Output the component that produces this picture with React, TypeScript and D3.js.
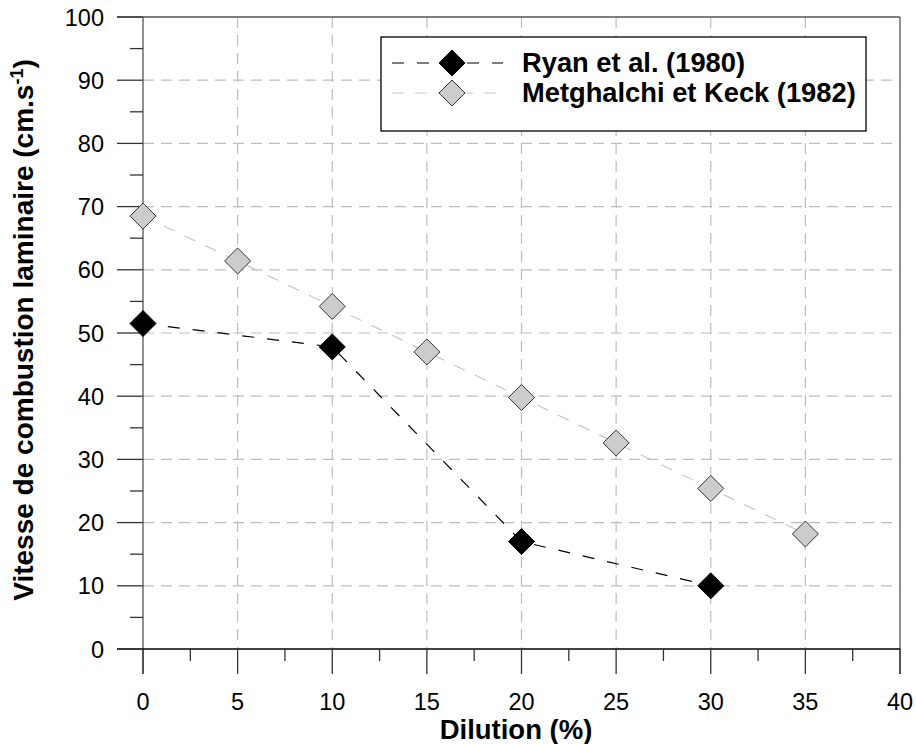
import React from "react";
import * as d3 from "d3";

const ryanX = [0, 10, 20, 30];
const ryanY = [51.5, 47.8, 17.0, 10.0];
const metX = [0, 5, 10, 15, 20, 25, 30, 35];
const metY = [68.5, 61.4, 54.2, 47.0, 39.8, 32.6, 25.4, 18.2];
const xTicks = [0, 5, 10, 15, 20, 25, 30, 35, 40];
const yTicks = [0, 10, 20, 30, 40, 50, 60, 70, 80, 90, 100];
const seriesNames = ["Ryan et al. (1980)", "Metghalchi et Keck (1982)"];

const W = 916, H = 744;
const left = 143, right = 900, top = 17, bottom = 649;
const font = "Liberation Sans, Arial, sans-serif";

export default function App() {
  const x = d3.scaleLinear().domain([0, 40]).range([left, right]);
  const y = d3.scaleLinear().domain([0, 100]).range([bottom, top]);
  const minorX = d3.range(2.5, 40, 5);
  const minorY = d3.range(5, 100, 10);
  const ryan = ryanX.map((v, i) => [v, ryanY[i]] as [number, number]);
  const met = metX.map((v, i) => [v, metY[i]] as [number, number]);
  const line = d3.line<[number, number]>().x(d => x(d[0])).y(d => y(d[1]));
  const diamond = (cx: number, cy: number, r: number) => `M${cx},${cy - r}L${cx + r},${cy}L${cx},${cy + r}L${cx - r},${cy}Z`;
  const R = 13;
  const lgX = 381, lgY = 37, lgW = 485, lgH = 94;
  const gridDash = "11,7";
  return (
    <svg width={W} height={H} style={{ position: "absolute", left: 0, top: 0, background: "#fff" }} fontFamily={font}>
      {/* grid */}
      {xTicks.slice(1, -1).map(t => (
        <line key={"gx" + t} x1={x(t)} x2={x(t)} y1={top} y2={bottom} stroke="#bdbdbd" strokeWidth={1.2} strokeDasharray={gridDash} />
      ))}
      {yTicks.slice(1, -1).map(t => (
        <line key={"gy" + t} x1={left} x2={right} y1={y(t)} y2={y(t)} stroke="#bdbdbd" strokeWidth={1.2} strokeDasharray={gridDash} />
      ))}
      {/* frame */}
      <line x1={left - 26} x2={right} y1={top} y2={top} stroke="#555" strokeWidth={1.3} />
      <line x1={right} x2={right} y1={top} y2={bottom + 25} stroke="#555" strokeWidth={1.3} />
      <line x1={left} x2={left} y1={top} y2={bottom + 25} stroke="#555" strokeWidth={1.3} />
      <line x1={left - 26} x2={right} y1={bottom} y2={bottom} stroke="#000" strokeWidth={1.3} />
      {/* ticks */}
      {xTicks.map(t => (
        <line key={"tx" + t} x1={x(t)} x2={x(t)} y1={bottom} y2={bottom + 25} stroke="#333" strokeWidth={1.3} />
      ))}
      {minorX.map(t => (
        <line key={"mx" + t} x1={x(t)} x2={x(t)} y1={bottom} y2={bottom + 12} stroke="#333" strokeWidth={1.3} />
      ))}
      {yTicks.map(t => (
        <line key={"ty" + t} x1={left - 26} x2={left} y1={y(t)} y2={y(t)} stroke="#333" strokeWidth={1.3} />
      ))}
      {minorY.map(t => (
        <line key={"my" + t} x1={left - 13} x2={left} y1={y(t)} y2={y(t)} stroke="#333" strokeWidth={1.3} />
      ))}
      {/* tick labels */}
      {xTicks.map(t => (
        <text key={"lx" + t} x={x(t)} y={710} fontSize={23.5} textAnchor="middle" fill="#000">{t}</text>
      ))}
      {yTicks.map(t => (
        <text key={"ly" + t} x={104} y={y(t) + 8.5} fontSize={23.5} textAnchor="end" fill="#000">{t}</text>
      ))}
      {/* axis titles */}
      <text x={516} y={739} fontSize={27.5} fontWeight="bold" textAnchor="middle">Dilution (%)</text>
      <text transform={`translate(33,330) rotate(-90)`} fontSize={28} fontWeight="bold" textAnchor="middle">
        Vitesse de combustion laminaire (cm.s<tspan dy={-10} fontSize={18}>-1</tspan><tspan dy={10}>)</tspan>
      </text>
      {/* series */}
      <path d={line(met) || ""} fill="none" stroke="#c8c8c8" strokeWidth={1.2} strokeDasharray="12,11" />
      <path d={line(ryan) || ""} fill="none" stroke="#000" strokeWidth={1.2} strokeDasharray="12,13" />
      {met.map((d, i) => (
        <path key={"m" + i} d={diamond(x(d[0]), y(d[1]), R)} fill="#cccccc" stroke="#333" strokeWidth={1} />
      ))}
      {ryan.map((d, i) => (
        <path key={"r" + i} d={diamond(x(d[0]), y(d[1]), R)} fill="#000" stroke="#000" strokeWidth={1} />
      ))}
      {/* legend */}
      <rect x={lgX} y={lgY} width={lgW} height={lgH} fill="#fff" stroke="#000" strokeWidth={1.3} />
      <line x1={392} x2={503} y1={63} y2={63} stroke="#000" strokeWidth={1.2} strokeDasharray="12,13" />
      <path d={diamond(452, 63, R)} fill="#000" stroke="#000" />
      <text x={522} y={72} fontSize={27.3} fontWeight="bold">{seriesNames[0]}</text>
      <line x1={392} x2={503} y1={93} y2={93} stroke="#c8c8c8" strokeWidth={1.2} strokeDasharray="12,11" />
      <path d={diamond(452, 93, R)} fill="#cccccc" stroke="#333" />
      <text x={522} y={102} fontSize={27.3} fontWeight="bold">{seriesNames[1]}</text>
    </svg>
  );
}
